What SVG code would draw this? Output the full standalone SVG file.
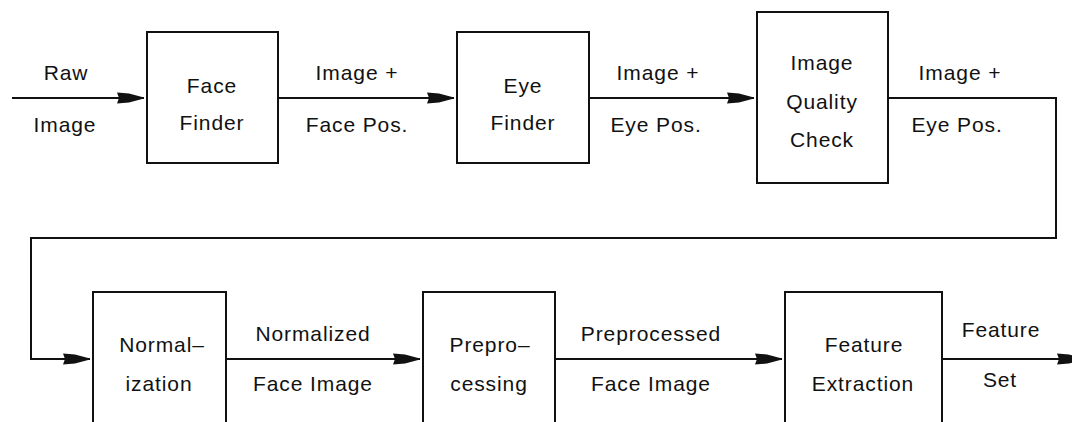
<svg xmlns="http://www.w3.org/2000/svg" width="1072" height="422" viewBox="0 0 1072 422">
<style>
.box{fill:#fff;stroke:#111;stroke-width:2}
.con{fill:none;stroke:#111;stroke-width:2}
text{font-family:"Liberation Sans",Arial,sans-serif;font-size:21px;letter-spacing:0.9px;fill:#111;text-anchor:middle}
</style>
<defs>
<marker id="arr" markerUnits="userSpaceOnUse" markerWidth="30" markerHeight="14" viewBox="0 -7 30 14" refX="27" refY="0" orient="auto">
<path d="M0,-5.5 L12,-4.5 L27,-0.5 L27,0.5 L12,4.5 L0,5.5 L2,0 Z" fill="#111"/>
</marker>
</defs>
<rect width="1072" height="422" fill="#fff"/>
<g id="connectors">
<path class="con" d="M12,98 H144" marker-end="url(#arr)"/>
<path class="con" d="M278,98 H454" marker-end="url(#arr)"/>
<path class="con" d="M589,98 H754" marker-end="url(#arr)"/>
<path class="con" d="M888,98 H1056 V238 H31 V359 H90" marker-end="url(#arr)"/>
<path class="con" d="M226,359 H420" marker-end="url(#arr)"/>
<path class="con" d="M555,359 H782" marker-end="url(#arr)"/>
<path class="con" d="M942,359 H1084" marker-end="url(#arr)"/>
</g>
<g id="labels">
<text x="66" y="80">Raw</text>
<text x="65" y="132">Image</text>
<text x="357" y="80">Image +</text>
<text x="357" y="132">Face Pos.</text>
<text x="658" y="80">Image +</text>
<text x="656" y="132">Eye Pos.</text>
<text x="960" y="80">Image +</text>
<text x="957" y="132">Eye Pos.</text>
<text x="313" y="341">Normalized</text>
<text x="313" y="391">Face Image</text>
<text x="651" y="341">Preprocessed</text>
<text x="651" y="391">Face Image</text>
<text x="1001" y="337">Feature</text>
<text x="1000" y="387">Set</text>
</g>
<g id="face-finder">
<rect class="box" x="147" y="32" width="131" height="131"/>
<text x="212" y="93">Face</text>
<text x="212" y="130">Finder</text>
</g>
<g id="eye-finder">
<rect class="box" x="457" y="32" width="132" height="131"/>
<text x="523" y="93">Eye</text>
<text x="523" y="130">Finder</text>
</g>
<g id="image-quality-check">
<rect class="box" x="757" y="12" width="131" height="171"/>
<text x="822" y="70">Image</text>
<text x="822" y="109">Quality</text>
<text x="822" y="147">Check</text>
</g>
<g id="normalization">
<rect class="box" x="93" y="292" width="133" height="150"/>
<text x="162" y="352">Normal–</text>
<text x="159" y="391">ization</text>
</g>
<g id="preprocessing">
<rect class="box" x="423" y="292" width="132" height="150"/>
<text x="490" y="352">Prepro–</text>
<text x="489" y="391">cessing</text>
</g>
<g id="feature-extraction">
<rect class="box" x="785" y="292" width="157" height="150"/>
<text x="864" y="352">Feature</text>
<text x="863" y="391">Extraction</text>
</g>
</svg>
